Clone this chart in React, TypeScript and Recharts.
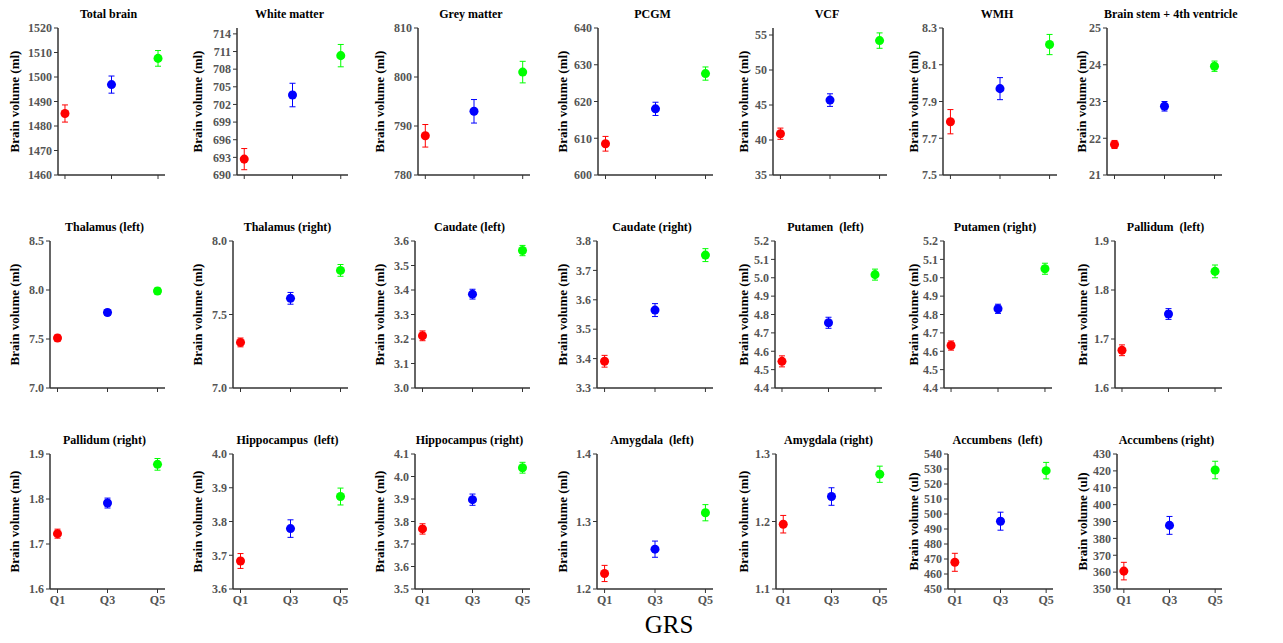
import { ScatterChart, Scatter, XAxis, YAxis, ZAxis, ErrorBar } from "recharts";

const quintiles = ["Q1", "Q3", "Q5"];
const colors = ["#ff0000", "#0000ff", "#00ff00"];

const titles = [
  "Total brain", "White matter", "Grey matter", "PCGM", "VCF", "WMH", "Brain stem + 4th ventricle",
  "Thalamus (left)", "Thalamus (right)", "Caudate (left)", "Caudate (right)", "Putamen  (left)", "Putamen (right)", "Pallidum  (left)",
  "Pallidum (right)", "Hippocampus  (left)", "Hippocampus (right)", "Amygdala  (left)", "Amygdala (right)", "Accumbens  (left)", "Accumbens (right)",
];

const yLabels = [
  "ml", "ml", "ml", "ml", "ml", "ml", "ml",
  "ml", "ml", "ml", "ml", "ml", "ml", "ml",
  "ml", "ml", "ml", "ml", "ml", "ul", "ul",
];

const means = [
  [1485.1, 1496.9, 1507.6], [692.7, 703.6, 710.3], [788.0, 793.0, 801.0], [608.5, 618.0, 627.6],
  [40.9, 45.7, 54.2], [7.79, 7.97, 8.21], [21.83, 22.87, 23.96],
  [7.51, 7.77, 7.99], [7.31, 7.61, 7.8], [3.213, 3.383, 3.561], [3.391, 3.565, 3.752],
  [4.545, 4.755, 5.017], [4.631, 4.831, 5.049], [1.677, 1.751, 1.838],
  [1.723, 1.791, 1.877], [3.683, 3.779, 3.874], [3.767, 3.897, 4.039], [1.223, 1.259, 1.313],
  [1.196, 1.237, 1.27], [467.8, 495.2, 528.9], [360.6, 387.7, 420.5],
];

const errors = [
  [3.5, 3.5, 3.2], [1.8, 2.0, 1.9], [2.3, 2.4, 2.2], [2.0, 1.8, 1.8],
  [0.8, 0.9, 1.1], [0.066, 0.06, 0.055], [0.11, 0.13, 0.14],
  [0.03, 0.03, 0.03], [0.03, 0.04, 0.04], [0.02, 0.02, 0.021], [0.02, 0.022, 0.022],
  [0.03, 0.03, 0.03], [0.025, 0.025, 0.03], [0.011, 0.011, 0.013],
  [0.01, 0.011, 0.013], [0.022, 0.026, 0.025], [0.023, 0.025, 0.024], [0.012, 0.012, 0.012],
  [0.013, 0.013, 0.012], [6, 6, 5.5], [5.2, 5.3, 5.2],
];

const yTicks = [
  ["1460", "1470", "1480", "1490", "1500", "1510", "1520"],
  ["690", "693", "696", "699", "702", "705", "708", "711", "714"],
  ["780", "790", "800", "810"],
  ["600", "610", "620", "630", "640"],
  ["35", "40", "45", "50", "55"],
  ["7.5", "7.7", "7.9", "8.1", "8.3"],
  ["21", "22", "23", "24", "25"],
  ["7.0", "7.5", "8.0", "8.5"],
  ["7.0", "7.5", "8.0"],
  ["3.0", "3.1", "3.2", "3.3", "3.4", "3.5", "3.6"],
  ["3.3", "3.4", "3.5", "3.6", "3.7", "3.8"],
  ["4.4", "4.5", "4.6", "4.7", "4.8", "4.9", "5.0", "5.1", "5.2"],
  ["4.4", "4.5", "4.6", "4.7", "4.8", "4.9", "5.0", "5.1", "5.2"],
  ["1.6", "1.7", "1.8", "1.9"],
  ["1.6", "1.7", "1.8", "1.9"],
  ["3.6", "3.7", "3.8", "3.9", "4.0"],
  ["3.5", "3.6", "3.7", "3.8", "3.9", "4.0", "4.1"],
  ["1.2", "1.3", "1.4"],
  ["1.1", "1.2", "1.3"],
  ["450", "460", "470", "480", "490", "500", "510", "520", "530", "540"],
  ["350", "360", "370", "380", "390", "400", "410", "420", "430"],
];

// axis top where it sits above the last tick
const yTop: Record<number, number> = { 1: 715, 4: 56 };

// layout (page pixels)
const rowTop = [28, 241, 454];
const rowBottom = [175, 388, 589];
const axisX = [
  58, 237, 418, 598, 773, 943, 1107,
  50, 233, 415, 597, 775, 944, 1115,
  50, 233, 415, 597, 776, 948, 1117,
];
const rightX = [
  165, 348, 530, 713, 887, 1057, 1222,
  165, 348, 530, 713, 882, 1052, 1222,
  165, 348, 530, 713, 887, 1053, 1222,
];
const labelDx = [
  -44, -40, -39, -36, -30, -30, -26,
  -36, -36, -36, -35, -32, -31, -33,
  -36, -36, -36, -35, -33, -35, -35,
];

const serif = "'Liberation Serif', 'Times New Roman', serif";
const axisColor = "#333";
const tickStyle = { fontSize: 12, fontWeight: "bold", fill: "#555", fontFamily: serif };

const Panel = ({ i }: { i: number }) => {
  const row = Math.floor(i / 7);
  const yW = 60;
  const mTop = 10;
  const showX = row === 2;
  const xH = showX ? 24 : 10;
  const top = rowTop[row];
  const bottom = rowBottom[row];
  const w = rightX[i] - axisX[i] + yW + 3;
  const h = bottom - top + mTop + xH;
  const labels = yTicks[i];
  const ticks = labels.map(Number);
  const dec = (labels[0].split(".")[1] || "").length;
  const domain = [ticks[0], yTop[i] ?? ticks[ticks.length - 1]];

  return (
    <>
      <div
        style={{
          position: "absolute",
          left: axisX[i] - 3,
          width: rightX[i] - axisX[i],
          top: top - 21,
          textAlign: "center",
          fontFamily: serif,
          fontWeight: "bold",
          fontSize: 12,
          whiteSpace: "pre",
        }}
      >
        {titles[i]}
      </div>
      <div style={{ position: "absolute", left: axisX[i] - yW, top: top - mTop }}>
        <ScatterChart width={w} height={h} margin={{ top: mTop, right: 3, bottom: 0, left: 0 }}>
          <XAxis
            type="number"
            dataKey="x"
            domain={[0.7, 5.3]}
            ticks={[1, 3, 5]}
            tickFormatter={(v) => (showX ? quintiles[(v - 1) / 2] : "")}
            height={xH}
            tick={tickStyle}
            tickSize={4}
            axisLine={{ stroke: axisColor, strokeWidth: 1.5 }}
            tickLine={{ stroke: axisColor }}
          />
          <YAxis
            type="number"
            dataKey="y"
            domain={domain}
            ticks={ticks}
            interval={0}
            width={yW}
            tickFormatter={(v) => Number(v).toFixed(dec)}
            tick={tickStyle}
            tickSize={4}
            axisLine={{ stroke: axisColor, strokeWidth: 1.5 }}
            tickLine={{ stroke: axisColor }}
            label={{
              value: `Brain volume (${yLabels[i]})`,
              angle: -90,
              position: "insideLeft",
              offset: yW + labelDx[i],
              style: { textAnchor: "middle", fontWeight: "bold", fontSize: 13, fill: "#000", fontFamily: serif },
            }}
          />
          <ZAxis range={[80, 80]} />
          {quintiles.map((q, k) => (
            <Scatter
              key={q}
              data={[{ x: Number(q.slice(1)), y: means[i][k], err: errors[i][k] }]}
              fill={colors[k]}
              isAnimationActive={false}
            >
              <ErrorBar dataKey="err" direction="y" width={3} stroke={colors[k]} strokeWidth={1} />
            </Scatter>
          ))}
        </ScatterChart>
      </div>
    </>
  );
};

export default function App() {
  return (
    <div
      style={{
        position: "absolute",
        left: 0,
        top: 0,
        width: 1283,
        height: 643,
        background: "#fff",
        fontFamily: serif,
        overflow: "hidden",
      }}
    >
      {titles.map((_, i) => (
        <Panel key={i} i={i} />
      ))}
      <div
        style={{
          position: "absolute",
          left: 569,
          width: 200,
          top: 611,
          textAlign: "center",
          fontFamily: serif,
          fontSize: 25,
        }}
      >
        GRS
      </div>
    </div>
  );
}
